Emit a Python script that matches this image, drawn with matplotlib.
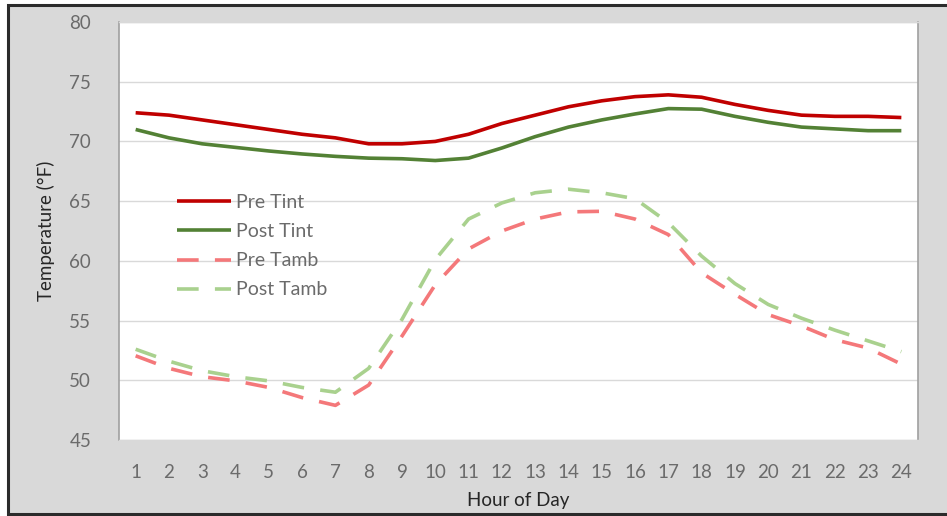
import matplotlib
matplotlib.use('Agg')
import matplotlib.pyplot as plt
from matplotlib.patches import Rectangle

# values
hours = list(range(1, 25))
pre_tint = [72.4, 72.2, 71.8, 71.4, 71.0, 70.6, 70.3, 69.8, 69.8, 70.0, 70.6, 71.5,
            72.2, 72.9, 73.4, 73.75, 73.9, 73.7, 73.1, 72.6, 72.2, 72.1, 72.1, 72.0]
post_tint = [71.0, 70.3, 69.8, 69.5, 69.2, 68.95, 68.75, 68.6, 68.55, 68.4, 68.6, 69.45,
             70.4, 71.2, 71.8, 72.3, 72.75, 72.7, 72.1, 71.6, 71.2, 71.05, 70.9, 70.9]
pre_tamb = [52.05, 51.0, 50.3, 49.95, 49.4, 48.55, 47.9, 49.6, 53.7, 58.0, 61.0, 62.5,
            63.5, 64.1, 64.15, 63.5, 62.2, 59.0, 57.2, 55.5, 54.55, 53.4, 52.7, 51.35]
post_tamb = [52.6, 51.6, 50.8, 50.3, 49.95, 49.4, 49.0, 51.0, 55.1, 60.1, 63.5, 64.85,
             65.7, 66.0, 65.7, 65.2, 63.2, 60.4, 58.1, 56.35, 55.2, 54.2, 53.3, 52.4]
y_ticks = [45, 50, 55, 60, 65, 70, 75, 80]

plt.rcParams['font.family'] = ['Lato', 'DejaVu Sans']

W, H = 947, 516
fig = plt.figure(figsize=(W / 100, H / 100), dpi=100)
fig.patch.set_facecolor('white')

# gray chart frame with dark border (top, left, bottom)
fig.add_artist(Rectangle((8 / W, 2 / H), 1.0, (511 - 2) / H, transform=fig.transFigure,
                         facecolor='#d9d9d9', edgecolor='#2b2b2b', linewidth=2.2, zorder=0))

ax = fig.add_axes([119 / W, (516 - 440) / H, (918 - 119) / W, (440 - 22) / H])
ax.set_facecolor('white')

ax.plot(hours, pre_tint, color='#c00000', lw=2.6, label='Pre Tint', solid_capstyle='butt')
ax.plot(hours, post_tint, color='#538135', lw=2.6, label='Post Tint', solid_capstyle='butt')
ax.plot(hours, pre_tamb, color='#f4787a', lw=2.6, label='Pre Tamb', dashes=(6, 4.5))
ax.plot(hours, post_tamb, color='#a9d18e', lw=2.6, label='Post Tamb', dashes=(6, 4.5))

ax.set_xlim(0.5, 24.5)
ax.set_ylim(45, 80)
ax.set_xticks(hours)
ax.set_yticks(y_ticks)
ax.tick_params(axis='both', length=0, labelsize=13.5, colors='#6b6b6b')
ax.tick_params(axis='x', pad=17)
ax.tick_params(axis='y', pad=20)
ax.grid(axis='y', color='#d9d9d9', lw=1)
ax.set_axisbelow(True)
for side in ['left', 'right']:
    ax.spines[side].set_color('#a0a0a0')
    ax.spines[side].set_linewidth(1.2)
for side in ['top', 'bottom']:
    ax.spines[side].set_color('#d9d9d9')
    ax.spines[side].set_linewidth(1)

ax.set_xlabel('Hour of Day', fontsize=13.5, color='#262626', labelpad=8)
ax.set_ylabel('Temperature (°F)', fontsize=13.5, color='#262626', labelpad=10)

leg = ax.legend(loc='upper left', bbox_to_anchor=(0.0726, 0.588), frameon=False,
                fontsize=14, handlelength=2.8, handletextpad=0.25, labelspacing=0.62,
                borderaxespad=0, borderpad=0)
for t in leg.get_texts():
    t.set_color('#6b6b6b')

fig.savefig('out.png', dpi=100)
